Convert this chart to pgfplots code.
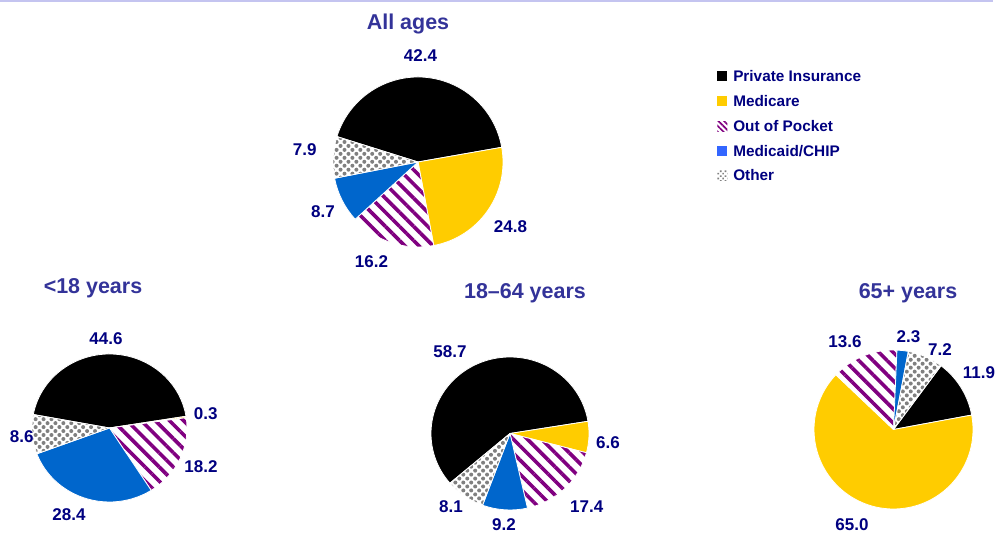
\documentclass[border=0pt]{standalone}
\usepackage{pgfplots}
\pgfplotsset{compat=1.18}
\usepackage{pgfplotstable}
\usetikzlibrary{patterns.meta}
\usepackage{fontspec}
\setmainfont{Liberation Sans}

\definecolor{navy}{RGB}{0,0,128}
\definecolor{titleblue}{RGB}{51,51,153}
\definecolor{gold}{RGB}{255,204,0}
\definecolor{cblue}{RGB}{0,102,204}
\definecolor{legblue}{RGB}{51,102,255}
\definecolor{spurple}{RGB}{128,0,128}
\definecolor{dotgray}{RGB}{128,128,128}
\definecolor{topline}{RGB}{196,196,240}

% shares in percent, clockwise from the first slice;
% lx, ly = centre of the value label (px, from the top left)
\pgfplotstableread{
share kind     lx    ly
42.4 private   420.5 55.5
24.8 medicare  510.5 226
16.2 pocket    371.5 261.5
8.7  medicaid  323   211
7.9  other     304.7 149
}\allages
\pgfplotstableread{
share kind     lx    ly
44.6 private   106   338
0.3  medicare  205.7 413
18.2 pocket    201   466
28.4 medicaid  69    514
8.6  other     21.7  436
}\under
\pgfplotstableread{
share kind     lx    ly
58.7 private   450   351
6.6  medicare  608   442
17.4 pocket    586.7 506
9.2  medicaid  504   524.5
8.1  other     451   506
}\adults
\pgfplotstableread{
share kind     lx    ly
11.9 private   979   372
65.0 medicare  852   524.5
13.6 pocket    845   341
2.3  medicaid  908.5 336
7.2  other     940   349
}\seniors

\tikzset{
  private/.style={fill=black},
  medicare/.style={fill=gold},
  pocket/.style={pattern={Lines[angle=-45,distance=7.5pt,line width=2.7pt]},pattern color=spurple},
  medicaid/.style={fill=cblue},
  other/.style={pattern={Dots[angle=45,distance=4.2pt,radius=1.5pt]},pattern color=dotgray},
  lab/.style={font=\fontsize{12.75}{14}\selectfont\bfseries,text=navy,inner sep=0pt,
    text height=9.1pt,text depth=0pt,anchor=center},
  ttl/.style={font=\fontsize{16.1}{18}\selectfont\bfseries,text=titleblue,anchor=base},
}

% #1 table, #2 cx, #3 cy, #4 rx, #5 ry, #6 start angle (axis units = px)
\newcommand\pie[6]{%
  \pgfplotstablegetrowsof{#1}\pgfmathtruncatemacro\nrows{\pgfplotsretval-1}%
  \def\tot{0}%
  \pgfplotsforeachungrouped \i in {0,...,\nrows}{%
    \pgfplotstablegetelem{\i}{share}\of{#1}%
    \pgfmathsetmacro\tot{\tot+\pgfplotsretval}}%
  \pgfmathsetmacro\angA{#6}%
  \pgfmathsetmacro\rxp{#4*0.75}%
  \pgfmathsetmacro\ryp{#5*0.75}%
  \pgfplotsforeachungrouped \i in {0,...,\nrows}{%
    \pgfplotstablegetelem{\i}{share}\of{#1}\let\val\pgfplotsretval
    \pgfplotstablegetelem{\i}{kind}\of{#1}\let\kind\pgfplotsretval
    \pgfplotstablegetelem{\i}{lx}\of{#1}\let\xl\pgfplotsretval
    \pgfplotstablegetelem{\i}{ly}\of{#1}\pgfmathsetmacro\yl{534-\pgfplotsretval}%
    \pgfmathsetmacro\angB{\angA-(\val/\tot)*360}%
    \pgfmathsetmacro\xa{#2+#4*cos(\angA)}%
    \pgfmathsetmacro\ya{#3+#5*sin(\angA)}%
    \edef\temp{\noexpand\path[\kind,draw=white,line width=0.6pt,line join=round]
      (axis cs:#2,#3) -- (axis cs:\xa,\ya)
      arc[start angle=\angA,end angle=\angB,x radius=\rxp pt,y radius=\ryp pt] -- cycle;
      \noexpand\node[lab] at (axis cs:\xl,\yl) {\val};}%
    \temp
    \let\angA\angB
  }%
}

\begin{document}
\begin{tikzpicture}
\useasboundingbox (0,0) rectangle (747.75pt,400.5pt);
\begin{axis}[
  at={(0,0)}, anchor=south west,
  x=0.75pt, y=0.75pt,
  xmin=0, xmax=997, ymin=0, ymax=534,
  enlargelimits=false, hide axis, clip=false,
  legend style={at={(axis cs:717,464.5)}, anchor=north west, draw=none, fill=none,
    inner sep=0pt, row sep=7.6pt, column sep=4.5pt,
    font=\fontsize{11.5}{12}\selectfont\bfseries, text=navy,
    nodes={inner sep=0pt, text height=9pt, text depth=2pt}},
  legend cell align=left,
  legend image code/.code={\path[#1] (0pt,-3.25pt) rectangle (7.5pt,4.25pt);},
]
\addlegendimage{fill=black,draw=none}
\addlegendentry{Private Insurance}
\addlegendimage{fill=gold,draw=none}
\addlegendentry{Medicare}
\addlegendimage{pattern={Lines[angle=-45,distance=3pt,line width=1.2pt]},pattern color=spurple,draw=none}
\addlegendentry{Out of Pocket}
\addlegendimage{fill=legblue,draw=none}
\addlegendentry{Medicaid/CHIP}
\addlegendimage{pattern={Dots[angle=45,distance=2.6pt,radius=0.9pt]},pattern color=dotgray,draw=none}
\addlegendentry{Other}

\draw[topline, line width=1.2pt] (axis cs:0,533.2) -- (axis cs:993,533.2);

\pie{\allages}{418}{372}{85}{85}{162.6}
\pie{\under}{109.5}{106}{77.5}{74}{169.5}
\pie{\adults}{510}{100.5}{79}{76.5}{220.5}
\pie{\seniors}{893.5}{104.5}{79.5}{79.5}{53.3}

\node[ttl] at (axis cs:408,504) {All ages};
\node[ttl] at (axis cs:93,240) {<18 years};
\node[ttl] at (axis cs:525,235) {18–64 years};
\node[ttl] at (axis cs:908,235) {65+ years};
\end{axis}
\end{tikzpicture}
\end{document}
